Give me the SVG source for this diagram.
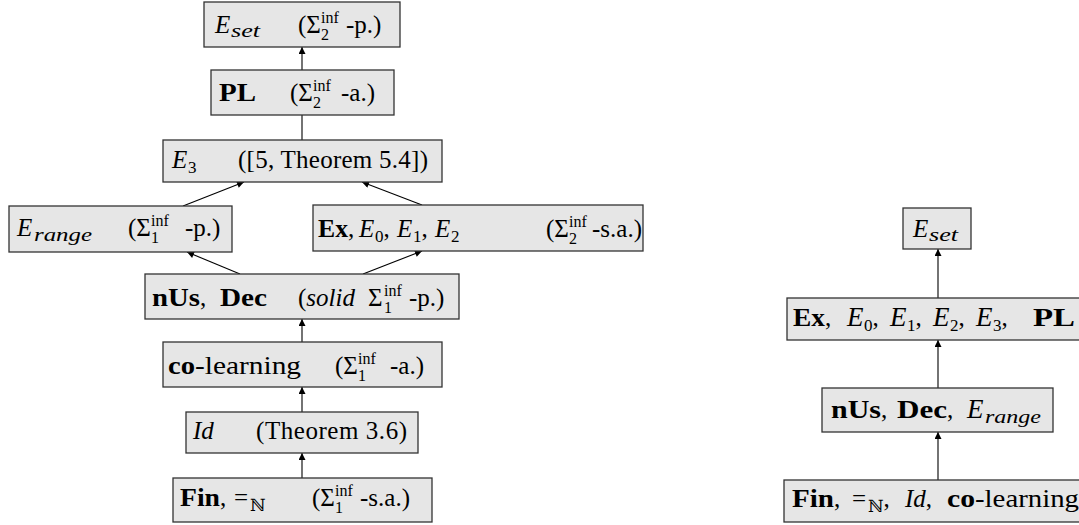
<svg xmlns="http://www.w3.org/2000/svg" width="1079" height="525" viewBox="0 0 1079 525">
<style>
.bx{fill:#e6e6e6;stroke:#333;stroke-width:1.3}
.t{font-family:"Liberation Serif","DejaVu Serif",serif;font-size:25px;fill:#000}
.s{font-size:17px}
.m{font-size:19px}
.u{font-size:16px}
.i{font-style:italic}
.b{font-weight:bold}
.c{stroke:#000;stroke-width:1.1;fill:none}
</style>
<defs>
<marker id="ah" viewBox="0 0 10 10" refX="10" refY="5" markerWidth="8" markerHeight="7" markerUnits="userSpaceOnUse" orient="auto"><path d="M0,0 L10,5 L0,10 z" fill="#000"/></marker>
</defs>
<rect width="1079" height="525" fill="#fff"/>
<g id="connectors">
<path class="c" d="M302,70 L302,47" marker-end="url(#ah)"/>
<path class="c" d="M302,140 L302,115"/>
<path class="c" d="M183,206 L244,182" marker-end="url(#ah)"/>
<path class="c" d="M422,205 L362,182" marker-end="url(#ah)"/>
<path class="c" d="M240,274 L187,252" marker-end="url(#ah)"/>
<path class="c" d="M363,274 L422,251" marker-end="url(#ah)"/>
<path class="c" d="M302,342 L302,319" marker-end="url(#ah)"/>
<path class="c" d="M302,412 L302,387" marker-end="url(#ah)"/>
<path class="c" d="M302,478 L302,453" marker-end="url(#ah)"/>
<path class="c" d="M938,298 L938,249" marker-end="url(#ah)"/>
<path class="c" d="M938,388 L938,340" marker-end="url(#ah)"/>
<path class="c" d="M938,480 L938,432" marker-end="url(#ah)"/>
</g>
<g id="n-eset">
<rect class="bx" x="204" y="2" width="196" height="45"/>
<text class="t"><tspan class="i" x="215" y="33">E</tspan><tspan class="m i" x="231" y="37" textLength="29" lengthAdjust="spacingAndGlyphs">set</tspan><tspan x="298" y="33">(Σ</tspan><tspan class="u" x="321" y="23">inf</tspan><tspan class="u" x="321" y="40">2</tspan><tspan x="346" y="33">-p.)</tspan></text>
</g>
<g id="n-pl">
<rect class="bx" x="211" y="70" width="183" height="45"/>
<text class="t"><tspan class="b" x="219" y="101" textLength="37" lengthAdjust="spacingAndGlyphs">PL</tspan><tspan x="290" y="101">(Σ</tspan><tspan class="u" x="313" y="91">inf</tspan><tspan class="u" x="313" y="108">2</tspan><tspan x="341" y="101">-a.)</tspan></text>
</g>
<g id="n-e3">
<rect class="bx" x="163" y="140" width="279" height="42"/>
<text class="t"><tspan class="i" x="172" y="168">E</tspan><tspan class="s" x="188" y="173">3</tspan></text>
<text class="t" x="238" y="168" textLength="190">([5, Theorem 5.4])</text>
</g>
<g id="n-erange">
<rect class="bx" x="9" y="206" width="223" height="46"/>
<text class="t"><tspan class="i" x="17" y="236">E</tspan><tspan class="m i" x="34" y="241" textLength="58" lengthAdjust="spacingAndGlyphs">range</tspan><tspan x="128" y="236">(Σ</tspan><tspan class="u" x="151" y="226">inf</tspan><tspan class="u" x="151" y="243">1</tspan><tspan x="185" y="236">-p.)</tspan></text>
</g>
<g id="n-ex">
<rect class="bx" x="313" y="205" width="330" height="46"/>
<text class="t"><tspan class="b" x="318" y="237" textLength="30" lengthAdjust="spacingAndGlyphs">Ex</tspan><tspan>,</tspan><tspan class="i" x="359" y="237">E</tspan><tspan class="s" x="375" y="242">0</tspan><tspan y="237">,</tspan><tspan class="i" x="397" y="237">E</tspan><tspan class="s" x="413" y="242">1</tspan><tspan y="237">,</tspan><tspan class="i" x="435" y="237">E</tspan><tspan class="s" x="451" y="242">2</tspan><tspan x="546" y="237">(Σ</tspan><tspan class="u" x="569" y="227">inf</tspan><tspan class="u" x="569" y="244">2</tspan><tspan x="592" y="237">-s.a.)</tspan></text>
</g>
<g id="n-nus">
<rect class="bx" x="145" y="274" width="314" height="45"/>
<text class="t"><tspan class="b" x="152" y="306" textLength="48" lengthAdjust="spacingAndGlyphs">nUs</tspan><tspan>,</tspan><tspan class="b" x="220" y="306" textLength="47" lengthAdjust="spacingAndGlyphs">Dec</tspan><tspan x="298" y="306">(</tspan><tspan class="i">solid</tspan><tspan x="368" y="306">Σ</tspan><tspan class="u" x="384" y="296">inf</tspan><tspan class="u" x="384" y="313">1</tspan><tspan x="409" y="306">-p.)</tspan></text>
</g>
<g id="n-co">
<rect class="bx" x="163" y="342" width="279" height="45"/>
<text class="t"><tspan class="b" x="168" y="374" textLength="27" lengthAdjust="spacingAndGlyphs">co</tspan><tspan x="195" y="374" textLength="106" lengthAdjust="spacingAndGlyphs">-learning</tspan><tspan x="335" y="374">(Σ</tspan><tspan class="u" x="358" y="364">inf</tspan><tspan class="u" x="358" y="381">1</tspan><tspan x="390" y="374">-a.)</tspan></text>
</g>
<g id="n-id">
<rect class="bx" x="186" y="412" width="232" height="41"/>
<text class="t"><tspan class="i" x="193" y="439">Id</tspan></text>
<text class="t" x="256" y="439" textLength="151">(Theorem 3.6)</text>
</g>
<g id="n-fin">
<rect class="bx" x="173" y="478" width="259" height="44"/>
<text class="t"><tspan class="b" x="180" y="506" textLength="40" lengthAdjust="spacingAndGlyphs">Fin</tspan><tspan>,</tspan><tspan x="234" y="506">=</tspan><tspan class="s" x="250" y="511">ℕ</tspan><tspan x="312" y="506">(Σ</tspan><tspan class="u" x="335" y="496">inf</tspan><tspan class="u" x="335" y="513">1</tspan><tspan x="360" y="506">-s.a.)</tspan></text>
</g>
<g id="r-eset">
<rect class="bx" x="903" y="208" width="68" height="41"/>
<text class="t"><tspan class="i" x="913" y="237">E</tspan><tspan class="m i" x="929" y="241" textLength="29" lengthAdjust="spacingAndGlyphs">set</tspan></text>
</g>
<g id="r-ex">
<rect class="bx" x="787" y="298" width="320" height="42"/>
<text class="t"><tspan class="b" x="793" y="326" textLength="32" lengthAdjust="spacingAndGlyphs">Ex</tspan><tspan>,</tspan><tspan class="i" x="847" y="326" font-size="27">E</tspan><tspan class="s" x="864" y="331">0</tspan><tspan y="326">,</tspan><tspan class="i" x="890" y="326" font-size="27">E</tspan><tspan class="s" x="907" y="331">1</tspan><tspan y="326">,</tspan><tspan class="i" x="933" y="326" font-size="27">E</tspan><tspan class="s" x="950" y="331">2</tspan><tspan y="326">,</tspan><tspan class="i" x="976" y="326" font-size="27">E</tspan><tspan class="s" x="993" y="331">3</tspan><tspan y="326">,</tspan><tspan class="b" x="1033" y="326" textLength="42" lengthAdjust="spacingAndGlyphs">PL</tspan></text>
</g>
<g id="r-nus">
<rect class="bx" x="822" y="388" width="231" height="44"/>
<text class="t"><tspan class="b" x="831" y="418" textLength="50" lengthAdjust="spacingAndGlyphs">nUs</tspan><tspan>,</tspan><tspan class="b" x="897" y="418" textLength="50" lengthAdjust="spacingAndGlyphs">Dec</tspan><tspan>,</tspan><tspan class="i" x="967" y="418" font-size="27">E</tspan><tspan class="m i" x="985" y="423" textLength="56" lengthAdjust="spacingAndGlyphs">range</tspan></text>
</g>
<g id="r-fin">
<rect class="bx" x="784" y="480" width="320" height="42"/>
<text class="t"><tspan class="b" x="792" y="507" textLength="42" lengthAdjust="spacingAndGlyphs">Fin</tspan><tspan>,</tspan><tspan x="852" y="507">=</tspan><tspan class="s" x="868" y="512">ℕ</tspan><tspan y="507">,</tspan><tspan class="i" x="905" y="507">Id</tspan><tspan>,</tspan><tspan class="b" x="947" y="507" textLength="28" lengthAdjust="spacingAndGlyphs">co</tspan><tspan x="975" y="507" textLength="104" lengthAdjust="spacingAndGlyphs">-learning</tspan></text>
</g>
</svg>
